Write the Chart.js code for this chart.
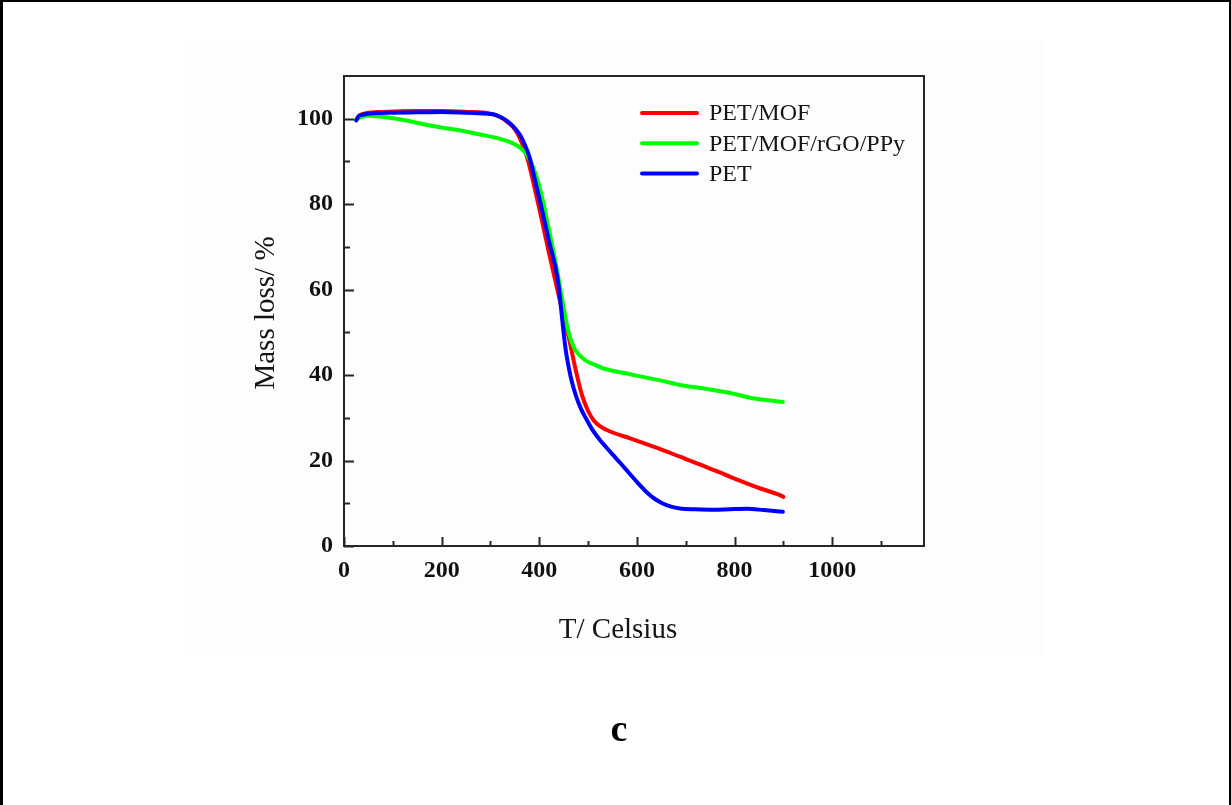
<!DOCTYPE html>
<html><head><meta charset="utf-8">
<script src="https://cdn.jsdelivr.net/npm/chart.js@4.4.0/dist/chart.umd.min.js"></script>
<style>html,body{margin:0;padding:0;background:#fff;overflow:hidden}#wrap{width:1231px;height:805px;position:relative}</style>
</head><body><div id="wrap"><canvas id="c" width="1231" height="805"></canvas></div>
<script>
const seriesNames = ['PET/MOF', 'PET/MOF/rGO/PPy', 'PET'];
const seriesColors = ['#ff0000', '#00ff00', '#0000ff'];

const tempPETMOF = [25, 32, 45, 80, 150, 200, 250, 300, 320, 335, 350, 362, 375, 387, 400, 420, 440, 460, 475, 487, 500, 512, 525, 545, 586, 640, 688, 740, 791, 845, 893, 900];
const massPETMOF = [99.8, 100.8, 101.3, 101.6, 101.8, 101.8, 101.6, 101.2, 100.4, 99.2, 97.5, 95.0, 91.0, 85.5, 79.0, 68.5, 58.5, 49.0, 41.0, 35.5, 31.6, 29.3, 28.0, 26.8, 25.2, 23.0, 20.9, 18.6, 16.2, 13.8, 11.9, 11.5];

const tempRGO = [25, 35, 50, 70, 108, 140, 176, 230, 279, 320, 345, 360, 375, 388, 398, 408, 418, 428, 438, 448, 458, 466, 474, 483, 495, 510, 530, 550, 586, 606, 650, 688, 740, 791, 832, 870, 899];
const massRGO = [99.8, 100.4, 100.7, 100.6, 100.0, 99.3, 98.4, 97.4, 96.3, 95.3, 94.3, 93.3, 91.5, 88.5, 85.0, 80.5, 75.0, 69.5, 63.5, 57.0, 51.0, 47.8, 45.8, 44.6, 43.4, 42.6, 41.6, 41.0, 40.2, 39.7, 38.7, 37.7, 36.8, 35.8, 34.7, 34.1, 33.7];

const tempPET = [25, 30, 40, 60, 100, 150, 200, 250, 300, 313, 330, 345, 360, 372, 381, 391, 403, 420, 438, 444, 449, 454, 460, 467, 475, 485, 495, 510, 525, 538, 552, 570, 586, 603, 620, 637, 654, 670, 688, 720, 757, 790, 825, 860, 899];
const massPET = [99.6, 100.6, 101.0, 101.3, 101.4, 101.5, 101.6, 101.4, 101.1, 100.8, 99.8, 98.4, 96.3, 93.5, 90.6, 85.7, 80.0, 71.3, 62.3, 56.3, 50.8, 46.0, 42.0, 38.3, 35.2, 32.2, 30.0, 27.0, 24.7, 23.0, 21.2, 18.9, 16.8, 14.6, 12.6, 11.0, 9.9, 9.2, 8.8, 8.6, 8.5, 8.6, 8.7, 8.4, 8.0];

const xTickValues = [0, 200, 400, 600, 800, 1000];
const xTickLabels = ['0', '200', '400', '600', '800', '1000'];
const xMinorValues = [100, 300, 500, 700, 900, 1100];
const yTickValues = [0, 20, 40, 60, 80, 100];
const yTickLabels = ['0', '20', '40', '60', '80', '100'];
const yMinorValues = [10, 30, 50, 70, 90];
const xMin = 0, xMax = 1188, yMin = 0, yMax = 110;
const xAxisTitle = 'T/ Celsius';
const yAxisTitle = 'Mass loss/ %';
const panelLabel = 'c';

const toPts = (xs, ys) => xs.map((x, i) => ({x: x, y: ys[i]}));
const seriesData = [toPts(tempPETMOF, massPETMOF), toPts(tempRGO, massRGO), toPts(tempPET, massPET)];
const drawOrder = [2, 1, 0];

const SERIF = '"Liberation Serif", "Times New Roman", serif';

const bgPlugin = {
  id: 'bg',
  beforeDraw(chart) {
    const ctx = chart.ctx;
    ctx.save();
    ctx.fillStyle = '#ffffff';
    ctx.fillRect(0, 0, chart.width, chart.height);
    ctx.fillStyle = '#fdfdfd';
    ctx.fillRect(190, 40, 853, 615);
    ctx.fillStyle = '#000000';
    ctx.fillRect(0, 0, 3, chart.height);
    ctx.fillRect(0, 0, chart.width, 2);
    ctx.fillRect(chart.width - 2, 0, 2, chart.height);
    ctx.restore();
  }
};

const decoPlugin = {
  id: 'deco',
  afterDraw(chart) {
    const ctx = chart.ctx;
    const a = chart.chartArea;
    const xs = chart.scales.x, ys = chart.scales.y;
    ctx.save();
    ctx.strokeStyle = '#262626';
    ctx.lineWidth = 2;
    ctx.strokeRect(a.left, a.top, a.right - a.left, a.bottom - a.top);
    ctx.beginPath();
    xTickValues.forEach(v => { const p = Math.round(xs.getPixelForValue(v)) + 0.5; ctx.moveTo(p, a.bottom); ctx.lineTo(p, a.bottom - 9); });
    xMinorValues.forEach(v => { const p = Math.round(xs.getPixelForValue(v)) + 0.5; ctx.moveTo(p, a.bottom); ctx.lineTo(p, a.bottom - 5); });
    yTickValues.forEach(v => { const p = Math.round(ys.getPixelForValue(v)) + 0.5; ctx.moveTo(a.left, p); ctx.lineTo(a.left + 10, p); });
    yMinorValues.forEach(v => { const p = Math.round(ys.getPixelForValue(v)) + 0.5; ctx.moveTo(a.left, p); ctx.lineTo(a.left + 6, p); });
    ctx.stroke();

    // legend
    ctx.lineCap = 'round';
    ctx.lineWidth = 4;
    ctx.font = '24px ' + SERIF;
    ctx.textBaseline = 'middle';
    ctx.textAlign = 'left';
    seriesNames.forEach((name, i) => {
      const y = 113 + i * 30.3;
      ctx.strokeStyle = seriesColors[i];
      ctx.beginPath(); ctx.moveTo(642, y); ctx.lineTo(697, y); ctx.stroke();
      ctx.fillStyle = '#151515';
      ctx.fillText(name, 709, y + 1);
    });

    // axis titles
    ctx.fillStyle = '#151515';
    ctx.font = '29px ' + SERIF;
    ctx.textAlign = 'center';
    ctx.textBaseline = 'middle';
    ctx.fillText(xAxisTitle, 618, 630);
    ctx.save();
    ctx.translate(266, 313);
    ctx.rotate(-Math.PI / 2);
    ctx.fillText(yAxisTitle, 0, 0);
    ctx.restore();

    // panel label
    ctx.font = 'bold 38px ' + SERIF;
    ctx.fillStyle = '#000';
    ctx.fillText(panelLabel, 619, 731);
    ctx.restore();
  }
};

new Chart(document.getElementById('c'), {
  type: 'line',
  data: {
    datasets: seriesNames.map((name, i) => ({
      label: name,
      data: seriesData[i],
      borderColor: seriesColors[i],
      backgroundColor: seriesColors[i],
      borderWidth: 4,
      pointRadius: 0,
      borderCapStyle: 'round',
      borderJoinStyle: 'round',
      cubicInterpolationMode: 'monotone',
      fill: false,
      order: drawOrder[i]
    }))
  },
  options: {
    responsive: false,
    animation: false,
    devicePixelRatio: 1,
    layout: {padding: {left: 0, top: 76, right: 307, bottom: 0}},
    plugins: {legend: {display: false}, tooltip: {enabled: false}},
    scales: {
      x: {
        type: 'linear', min: xMin, max: xMax,
        grid: {display: false, drawTicks: false},
        border: {display: false},
        afterBuildTicks: s => { s.ticks = xTickValues.map(v => ({value: v})); },
        afterFit: s => { s.height = 805 - 546; },
        ticks: {autoSkip: false, maxRotation: 0, padding: 10, color: '#111',
          callback: v => xTickLabels[xTickValues.indexOf(v)],
          font: {family: SERIF, size: 24, weight: 'bold'}}
      },
      y: {
        type: 'linear', min: yMin, max: yMax,
        grid: {display: false, drawTicks: false},
        border: {display: false},
        afterBuildTicks: s => { s.ticks = yTickValues.map(v => ({value: v})); },
        afterFit: s => { s.width = 344; },
        ticks: {autoSkip: false, padding: 11, color: '#111',
          callback: v => yTickLabels[yTickValues.indexOf(v)],
          font: {family: SERIF, size: 24, weight: 'bold'}}
      }
    }
  },
  plugins: [bgPlugin, decoPlugin]
});
</script></body></html>
